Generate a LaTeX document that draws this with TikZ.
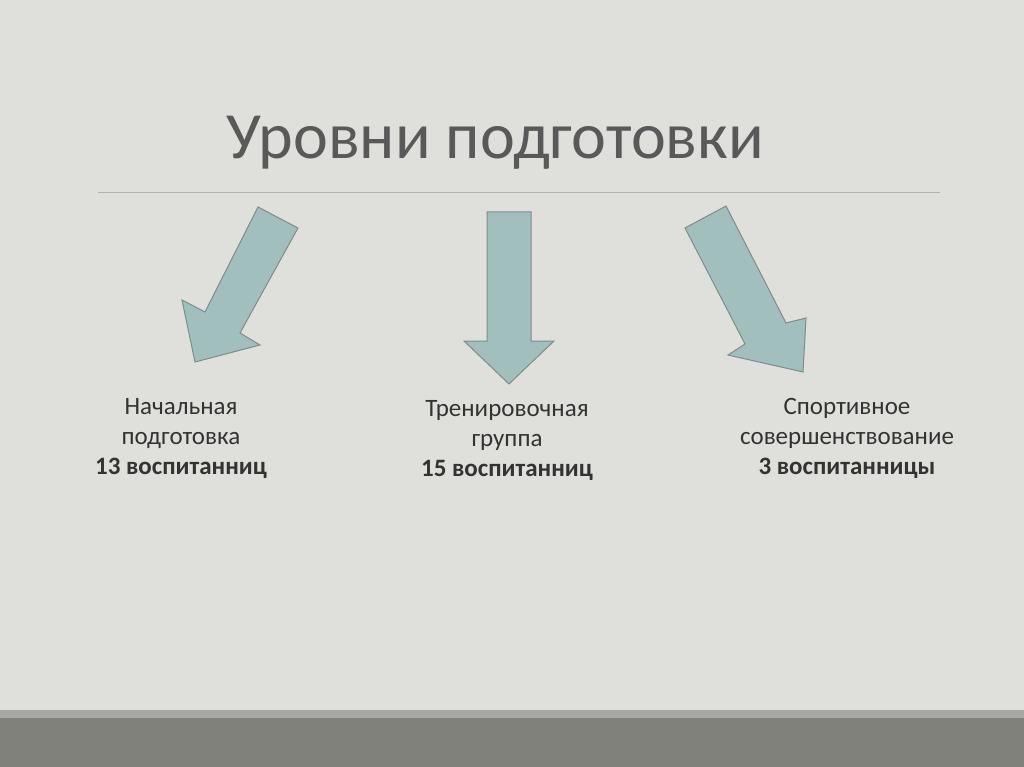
\documentclass[tikz,border=0pt]{standalone}
\usepackage{fontspec}
\setmainfont{Carlito}
\definecolor{bg}{HTML}{DFE0DB}
\definecolor{band}{HTML}{A8A9A5}
\definecolor{dark}{HTML}{80817A}
\definecolor{arrowfill}{HTML}{A0BFBD}
\definecolor{arrowline}{HTML}{7F8C8A}
\definecolor{txt}{HTML}{333333}
\begin{document}
\begin{tikzpicture}[x=1pt,y=-1pt,
  blockarrow/.style={fill=arrowfill,draw=arrowline,line width=1pt,line join=miter},
  lbl/.style={align=center,text=txt,font=\fontsize{25}{30}\selectfont}]
\fill[bg] (0,0) rectangle (1024,767);
\useasboundingbox (0,0) rectangle (1024,767);
\fill[band] (0,710) rectangle (1024,718);
\fill[dark] (0,718) rectangle (1024,767);
\node[text=black!65,font=\fontsize{66}{70}\selectfont] (title) at (495,143) {Уровни подготовки};
\draw[color=black!30,line width=0.8pt] (98,192) -- (940,192);
\draw[blockarrow] (258,207) -- (298,228) -- (240,333) -- (260,345) -- (195,362) -- (182,300) -- (205,312) -- cycle;
\draw[blockarrow] (487,212) -- (531,212) -- (531,341) -- (554,341) -- (509,384) -- (464,341) -- (487,341) -- cycle;
\draw[blockarrow] (685,228) -- (726,206) -- (786,323) -- (806,318) -- (803,372) -- (728,355) -- (745,344) -- cycle;
\node[lbl] (a) at (181,438) {Начальная\\подготовка\\\textbf{13 воспитанниц}};
\node[lbl] (b) at (507,440) {Тренировочная\\группа\\\textbf{15 воспитанниц}};
\node[lbl] (c) at (847,438) {Спортивное\\совершенствование\\\textbf{3 воспитанницы}};
\end{tikzpicture}
\end{document}
